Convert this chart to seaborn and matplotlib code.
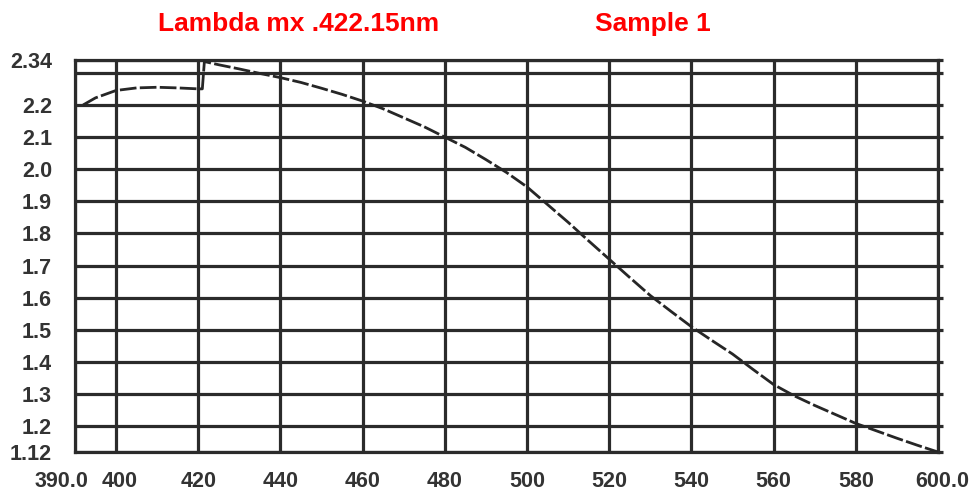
import pandas as pd
import matplotlib
matplotlib.use('Agg')
import matplotlib.pyplot as plt
import matplotlib.transforms as mtransforms
import seaborn as sns

# valores
comprimento = [392, 395, 400, 405, 410, 415, 420, 421, 421.5, 425, 430, 435, 440, 445,
               450, 455, 460, 465, 470, 475, 480, 485, 490, 495, 500, 505, 510, 515,
               520, 525, 530, 535, 540, 545, 550, 555, 560, 565, 570, 575, 580, 585,
               590, 595, 600]
absorbancia = [2.200, 2.222, 2.245, 2.253, 2.255, 2.253, 2.250, 2.250, 2.335, 2.325,
               2.312, 2.298, 2.285, 2.270, 2.252, 2.233, 2.212, 2.188, 2.160, 2.132,
               2.100, 2.068, 2.030, 1.990, 1.945, 1.890, 1.835, 1.777, 1.720, 1.663,
               1.607, 1.558, 1.510, 1.467, 1.425, 1.377, 1.330, 1.295, 1.265, 1.237,
               1.209, 1.186, 1.163, 1.141, 1.120]

x_ticks = [390, 400, 420, 440, 460, 480, 500, 520, 540, 560, 580, 600]
x_labels = ['390.0', '400', '420', '440', '460', '480', '500', '520', '540', '560', '580', '600.0']
y_ticks = [1.12, 1.2, 1.3, 1.4, 1.5, 1.6, 1.7, 1.8, 1.9, 2.0, 2.1, 2.2, 2.3, 2.34]
y_labels = ['1.12', '1.2', '1.3', '1.4', '1.5', '1.6', '1.7', '1.8', '1.9', '2.0', '2.1', '2.2', '', '2.34']

dados = pd.DataFrame({'nm': comprimento, 'abs': absorbancia})

sns.set_style('white')
plt.rcParams['font.family'] = ['Liberation Sans', 'DejaVu Sans']

cor_grade = '#2b2b2b'

fig = plt.figure(figsize=(9.73, 4.91), dpi=100)
ax = fig.add_axes([0.077, 0.0794, 0.887, 0.7985])

sns.lineplot(data=dados, x='nm', y='abs', ax=ax, color='#262626', linewidth=2.0,
             linestyle=(0, (6, 1.2)), zorder=5)

ax.set_xlim(390, 600)
ax.set_ylim(1.12, 2.34)
ax.set_xticks(x_ticks)
ax.set_xticklabels(x_labels)
ax.set_yticks(y_ticks)
ax.set_yticklabels(y_labels)
ax.set_xlabel('')
ax.set_ylabel('')

ax.grid(True, color=cor_grade, linewidth=2.3)
ax.set_axisbelow(True)
for lado in ax.spines.values():
    lado.set_color(cor_grade)
    lado.set_linewidth(2.3)

ax.tick_params(axis='x', direction='out', length=7.5, width=2.3, color=cor_grade,
               pad=6.5, labelsize=15.5, labelcolor='#333333')
ax.tick_params(axis='y', direction='out', length=8.5, width=2.3, color=cor_grade,
               pad=8, labelsize=15.5, labelcolor='#333333', right=True)
for rotulo in ax.get_xticklabels() + ax.get_yticklabels():
    rotulo.set_fontweight('bold')
for t in ax.yaxis.get_major_ticks():
    t.tick2line.set_markersize(3.5)

# deslocar os rótulos das pontas como no original
rotulos_x = ax.get_xticklabels()
rotulos_x[0].set_transform(rotulos_x[0].get_transform() +
                           mtransforms.ScaledTranslation(-0.13, 0, fig.dpi_scale_trans))
rotulos_x[1].set_transform(rotulos_x[1].get_transform() +
                           mtransforms.ScaledTranslation(0.04, 0, fig.dpi_scale_trans))
rotulos_x[-1].set_transform(rotulos_x[-1].get_transform() +
                            mtransforms.ScaledTranslation(0.04, 0, fig.dpi_scale_trans))

fig.text(0.307, 0.951, 'Lambda mx .422.15nm', color='#ff0000', fontsize=19,
         fontweight='bold', ha='center', va='center')
fig.text(0.671, 0.951, 'Sample 1', color='#ff0000', fontsize=19,
         fontweight='bold', ha='center', va='center')

fig.savefig('out.png', dpi=100)
